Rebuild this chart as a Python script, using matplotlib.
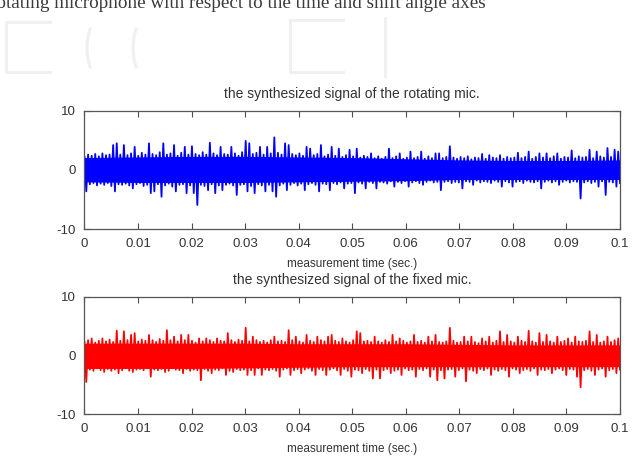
import numpy as np
import matplotlib
matplotlib.use("Agg")
import matplotlib.pyplot as plt
from matplotlib.lines import Line2D
from matplotlib.patches import Arc

# ---------------- data ----------------
t_start, t_end = 0.0, 0.1

# rotating mic: positive excursions (upper envelope) and negative excursions, in time order
rot_upper = [2.2, 2.6, 2.4, 2.7, 2.3, 2.8, 2.5, 2.6, 4.2, 4.5,
             2.6, 4.2, 2.5, 2.8, 3.9, 2.4, 2.9, 2.6, 4.5, 2.7,
             2.5, 3.0, 4.5, 2.6, 2.8, 4.2, 2.4, 2.9, 3.9, 2.6,
             4.0, 2.7, 2.5, 3.0, 2.6, 4.6, 2.8, 2.5, 3.9, 2.7,
             2.6, 3.9, 2.8, 2.4, 3.0, 4.9, 4.5, 2.7, 2.9, 3.9,
             2.6, 3.9, 2.8, 5.5, 2.9, 2.6, 4.5, 4.2, 2.7, 2.5,
             2.8, 2.4, 3.9, 3.6, 2.5, 2.7, 4.2, 2.3, 2.6, 3.9,
             2.4, 3.6, 2.2, 2.5, 3.4, 2.3, 3.6, 2.1, 2.4, 2.2,
             2.8, 2.0, 2.3, 1.9, 2.2, 3.6, 2.0, 2.3, 2.8, 1.9,
             2.1, 3.1, 2.0, 2.2, 3.1, 1.9, 2.3, 2.0, 2.8, 2.8,
             2.0, 2.2, 4.0, 2.1, 1.9, 2.2, 2.0, 2.3, 1.8, 2.1,
             2.0, 2.7, 1.9, 2.5, 2.1, 2.0, 2.5, 1.9, 2.2, 2.0,
             2.1, 2.9, 2.0, 2.2, 3.1, 1.9, 2.2, 2.8, 2.1, 2.8,
             2.0, 2.3, 2.8, 1.9, 2.2, 2.1, 3.3, 2.0, 2.3, 2.1,
             2.2, 3.4, 2.0, 3.1, 2.3, 2.1, 3.7, 2.2, 3.4, 3.1]
rot_lower = [-3.6, -2.4, -2.2, -2.6, -2.3, -2.5, -2.2, -2.7, -3.6, -2.4,
             -2.5, -2.3, -2.6, -3.1, -2.4, -2.2, -2.7, -2.5, -3.9, -3.6,
             -2.4, -4.5, -2.6, -2.3, -2.8, -3.6, -2.5, -2.4, -3.9, -2.6,
             -3.9, -5.9, -2.5, -2.7, -3.4, -2.4, -3.9, -2.6, -3.4, -2.5,
             -2.3, -2.6, -4.2, -2.5, -2.4, -3.6, -2.7, -3.9, -2.4, -2.6,
             -3.6, -2.5, -3.6, -4.5, -2.6, -2.3, -3.4, -2.5, -2.2, -2.6,
             -2.3, -3.4, -2.4, -2.2, -2.5, -3.6, -2.3, -2.4, -3.4, -2.2,
             -2.4, -2.1, -3.1, -2.3, -2.2, -3.9, -2.1, -2.3, -3.1, -2.0,
             -2.2, -3.1, -2.0, -2.1, -2.3, -1.9, -2.8, -2.0, -2.2, -1.9,
             -2.8, -2.1, -1.9, -2.2, -2.5, -2.0, -1.8, -2.1, -2.0, -3.4,
             -2.0, -1.9, -2.2, -2.0, -2.1, -3.1, -1.9, -2.0, -2.5, -1.8,
             -2.1, -1.9, -2.0, -2.2, -1.8, -2.0, -2.8, -1.9, -2.1, -2.8,
             -2.0, -1.9, -2.2, -1.8, -2.0, -2.1, -1.9, -3.1, -2.0, -1.8,
             -2.1, -1.9, -2.5, -2.0, -1.8, -2.1, -1.9, -2.0, -4.8, -2.1,
             -1.9, -2.2, -2.0, -2.8, -1.9, -4.2, -2.0, -2.1, -2.8, -2.2]
# limits of the solid (dense) part of the trace, read every 0.01 s
rot_band_upper = [2.1, 2.2, 2.3, 2.3, 2.2, 2.1, 1.9, 1.7, 1.6, 1.6, 1.7]
rot_band_lower = [-2.0, -2.1, -2.1, -2.1, -2.0, -1.9, -1.8, -1.6, -1.6, -1.6, -1.6]

# fixed mic
fix_upper = [2.3, 2.6, 2.9, 2.2, 2.5, 2.9, 2.4, 2.7, 2.3, 4.2,
             2.5, 4.1, 2.6, 3.5, 3.8, 2.4, 2.7, 2.5, 3.5, 2.6,
             2.3, 2.8, 2.5, 4.3, 2.6, 3.2, 2.4, 3.5, 2.6, 3.5,
             2.5, 2.2, 2.9, 2.4, 2.9, 2.6, 2.3, 2.9, 2.5, 2.4,
             3.8, 2.6, 2.3, 2.7, 2.5, 4.7, 2.4, 3.2, 2.6, 2.3,
             2.5, 2.2, 2.6, 3.2, 2.4, 2.5, 2.3, 4.3, 2.6, 3.2,
             2.4, 2.2, 3.5, 2.5, 2.3, 3.2, 2.6, 2.4, 3.2, 3.5,
             2.5, 2.3, 2.9, 2.4, 2.2, 2.6, 4.1, 3.8, 2.4, 2.5,
             2.3, 3.2, 2.4, 2.2, 2.6, 2.3, 3.5, 2.4, 2.9, 2.5,
             2.2, 2.4, 3.5, 2.3, 2.5, 2.2, 3.2, 2.4, 3.5, 2.3,
             2.2, 2.4, 4.7, 2.5, 2.2, 2.3, 3.2, 2.4, 3.2, 2.3,
             2.1, 2.9, 2.4, 3.2, 2.2, 2.5, 4.1, 2.3, 3.5, 2.4,
             2.2, 3.2, 2.5, 2.3, 4.2, 2.4, 2.2, 3.8, 2.3, 3.5,
             2.4, 2.2, 3.2, 2.3, 2.5, 2.9, 2.2, 3.2, 2.4, 2.3,
             2.5, 4.1, 2.3, 3.5, 2.2, 2.4, 3.2, 2.3, 2.6, 2.9]
fix_lower = [-4.5, -2.4, -2.6, -2.2, -2.5, -2.8, -2.3, -2.6, -2.4, -3.0,
             -2.5, -2.2, -2.6, -2.8, -2.4, -2.3, -2.5, -2.2, -3.6, -2.4,
             -2.5, -2.3, -2.8, -2.6, -2.2, -2.4, -2.5, -3.0, -2.3, -2.6,
             -2.4, -2.5, -4.2, -2.3, -2.6, -3.0, -2.4, -2.5, -2.2, -3.3,
             -2.6, -2.8, -2.3, -2.5, -2.4, -3.3, -2.5, -3.3, -2.2, -3.3,
             -2.4, -2.5, -2.3, -2.6, -3.6, -2.4, -2.2, -3.3, -2.5, -2.3,
             -3.0, -2.4, -2.2, -2.6, -3.3, -2.3, -2.5, -3.3, -2.4, -2.2,
             -2.5, -3.3, -2.3, -2.6, -3.6, -2.4, -2.5, -3.0, -2.3, -2.6,
             -3.9, -2.4, -3.9, -2.5, -2.3, -3.0, -2.6, -2.4, -3.3, -2.2,
             -2.5, -2.4, -3.6, -2.3, -2.5, -2.2, -3.6, -2.4, -4.2, -2.5,
             -3.9, -2.4, -2.3, -3.6, -2.5, -2.2, -4.4, -2.4, -2.6, -3.0,
             -2.3, -2.5, -2.2, -3.3, -2.4, -2.6, -2.3, -2.5, -3.6, -2.2,
             -2.4, -3.0, -2.5, -2.3, -2.6, -2.2, -3.3, -2.4, -2.5, -2.3,
             -3.0, -2.4, -2.2, -2.5, -3.3, -2.3, -2.4, -3.6, -5.4, -2.5,
             -2.3, -2.6, -3.3, -2.4, -2.2, -3.6, -2.5, -2.3, -3.0, -2.4]
fix_band_upper = [2.1, 2.1, 2.1, 2.1, 2.0, 2.0, 2.0, 1.9, 1.8, 1.8, 1.8]
fix_band_lower = [-2.2, -2.2, -2.2, -2.1, -2.0, -1.9, -1.9, -1.9, -1.9, -1.9, -1.9]

x_ticks = [0, 0.01, 0.02, 0.03, 0.04, 0.05, 0.06, 0.07, 0.08, 0.09, 0.1]
x_tick_labels = ["0", "0.01", "0.02", "0.03", "0.04", "0.05", "0.06", "0.07", "0.08", "0.09", "0.1"]
y_ticks = [-10, 0, 10]
y_tick_labels = ["-10", "0", "10"]

titles = ["the synthesized signal of the rotating mic.",
          "the synthesized signal of the fixed mic."]
xlabel = "measurement time (sec.)"
header = "rotating microphone with respect to the time and shift angle axes"


def interleave(up, lo):
    s = np.empty(len(up) + len(lo))
    s[0::2] = up
    s[1::2] = lo
    return s


rot_sig = interleave(rot_upper, rot_lower)
fix_sig = interleave(fix_upper, fix_lower)
t_rot = np.linspace(t_start, t_end, len(rot_sig))
t_fix = np.linspace(t_start, t_end, len(fix_sig))
t_band = np.array(x_ticks)

# ---------------- figure ----------------
plt.rcParams['font.family'] = ['Liberation Sans', 'DejaVu Sans']
fig = plt.figure(figsize=(6.41, 4.59), dpi=100)
fig.patch.set_facecolor('white')

# faint watermark shapes (figure pixel coords -> fraction)
W, H = 641.0, 459.0
wm = '#f0f0f0'
def fx(px):
    return px / W
def fy(py):
    return 1 - py / H
for (xs, ys) in [([50, 6, 6, 50], [22, 22, 72, 72]),
                 ([290, 290, 343], [20, 72, 72]),
                 ([290, 343], [20, 20]),
                 ([385, 385], [18, 76])]:
    fig.add_artist(Line2D([fx(v) for v in xs], [fy(v) for v in ys], color=wm, lw=2.2))
for cx in [107, 153]:
    fig.add_artist(Arc((fx(cx), fy(48)), 40 / W, 70 / H, theta1=120, theta2=240,
                       color=wm, lw=2.2, transform=fig.transFigure))

# header line of the page (cropped at top, as in the source page)
fig.text(-0.016, 1 - 7.5 / H, header, family=['Liberation Serif', 'DejaVu Serif'],
         fontsize=13.8, color='#3a3a3a', ha='left', va='baseline')

positions = [[84.5 / W, 1 - 229.3 / H, (620 - 84.5) / W, (229.3 - 110.7) / H],
             [84.5 / W, 1 - 414.3 / H, (620 - 84.5) / W, (414.3 - 296.7) / H]]
series = [(t_rot, rot_sig, rot_band_upper, rot_band_lower, '#0000ff'),
          (t_fix, fix_sig, fix_band_upper, fix_band_lower, '#ff0000')]

for pos, (tt, sig, bu, bl, col), title in zip(positions, series, titles):
    ax = fig.add_axes(pos)
    ax.fill_between(t_band, bl, bu, color=col, lw=0)
    ax.plot(tt, sig, color=col, lw=1.3)
    ax.set_xlim(t_start, t_end)
    ax.set_ylim(-10, 10)
    ax.set_xticks(x_ticks)
    ax.set_xticklabels(x_tick_labels)
    ax.set_yticks(y_ticks)
    ax.set_yticklabels(y_tick_labels)
    ax.tick_params(direction='in', length=4, width=0.8, colors='#4d4d4d',
                   labelsize=9.5, labelcolor='#333333', top=True, right=True, pad=6)
    for sp in ax.spines.values():
        sp.set_color('#555555')
        sp.set_linewidth(0.9)
    ax.set_title(title, fontsize=10, color='#333333', pad=9)
    ax.set_xlabel(xlabel, fontsize=8.5, color='#333333', labelpad=6)

fig.savefig('out.png', dpi=100)
